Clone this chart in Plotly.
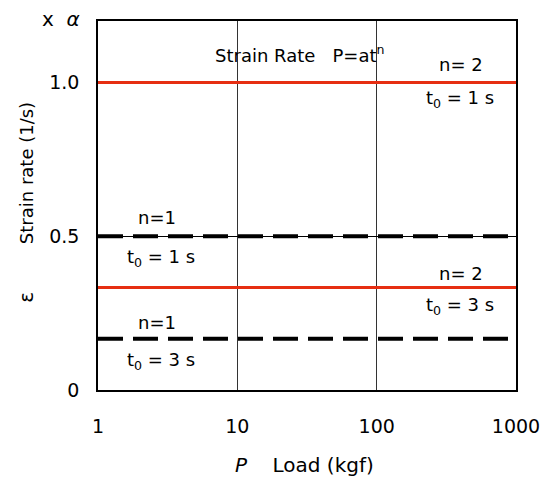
import plotly.graph_objects as go

x_range = [1, 1000]
red_levels = [1.0, 1/3]          # n = 2, t0 = 1 s and 3 s
black_levels = [0.5, 1/6]        # n = 1, t0 = 1 s and 3 s
x_ticks = [1, 10, 100, 1000]
x_ticktext = ["1", "10", "100", "1000"]
y_ticks = [0, 0.5, 1.0]
y_ticktext = ["0", "0.5", "1.0"]

FONT = "DejaVu Sans, Noto Sans, sans-serif"

fig = go.Figure()
for lv in black_levels:
    fig.add_trace(go.Scatter(x=x_range, y=[lv, lv], mode="lines",
                             line=dict(color="black", width=4, dash="25px,10px"),
                             showlegend=False, hoverinfo="skip"))
for lv in red_levels:
    fig.add_trace(go.Scatter(x=x_range, y=[lv, lv], mode="lines",
                             line=dict(color="#e62e12", width=3),
                             showlegend=False, hoverinfo="skip"))

labels = [
    ("Strain Rate   P=at<sup>n</sup>", 1.45, 1.094),
    ("n= 2", 2.607, 1.058),
    ("t<sub>0</sub> = 1 s", 2.6, 0.945),
    ("n=1", 0.42, 0.56),
    ("t<sub>0</sub> = 1 s", 0.45, 0.43),
    ("n= 2", 2.607, 0.379),
    ("t<sub>0</sub> = 3 s", 2.6, 0.272),
    ("n=1", 0.42, 0.22),
    ("t<sub>0</sub> = 3 s", 0.45, 0.094),
]
for txt, lx, ly in labels:
    fig.add_annotation(x=lx, y=ly, xref="x", yref="y", text=txt, showarrow=False,
                       font=dict(size=18, color="black", family=FONT))

# axis titles & extras in paper coords
fig.add_annotation(xref="paper", yref="paper", x=-0.172, y=0.588, xanchor="center",
                   yanchor="middle", text="Strain rate (1/s)",
                   textangle=-90, showarrow=False, font=dict(size=18, color="black", family=FONT))
fig.add_annotation(xref="paper", yref="paper", x=-0.172, y=0.25, xanchor="center",
                   yanchor="middle", text="ε",
                   textangle=-90, showarrow=False, font=dict(size=20, color="black", family=FONT))
fig.add_annotation(xref="paper", yref="paper", x=-0.088, y=1.005, xanchor="center",
                   yanchor="middle", text="x  <i>α</i>",
                   showarrow=False, font=dict(size=20, color="black", family=FONT))
fig.add_annotation(xref="paper", yref="paper", x=0.493, y=-0.202, xanchor="center",
                   yanchor="middle", text="<i>P</i>    Load (kgf)",
                   showarrow=False, font=dict(size=20, color="black", family=FONT))

fig.update_xaxes(type="log", range=[0, 3], tickvals=x_ticks, ticktext=x_ticktext,
                 showgrid=True, gridcolor="#333333", gridwidth=1,
                 showline=True, linecolor="black", linewidth=1.5, mirror=True,
                 ticks="", ticklabelstandoff=18, zeroline=False,
                 tickfont=dict(size=19, color="black", family=FONT))
fig.update_yaxes(range=[0, 1.2], tickvals=y_ticks, ticktext=y_ticktext,
                 showgrid=True, gridcolor="black", gridwidth=1,
                 showline=True, linecolor="black", linewidth=1.5, mirror=True,
                 ticks="", ticklabelstandoff=13, zeroline=False,
                 tickfont=dict(size=19, color="black", family=FONT))

fig.update_layout(width=543, height=472, margin=dict(l=90, r=31, t=11, b=90),
                  plot_bgcolor="white", paper_bgcolor="white",
                  font=dict(family=FONT, color="black"))

fig.write_html("out.html")
